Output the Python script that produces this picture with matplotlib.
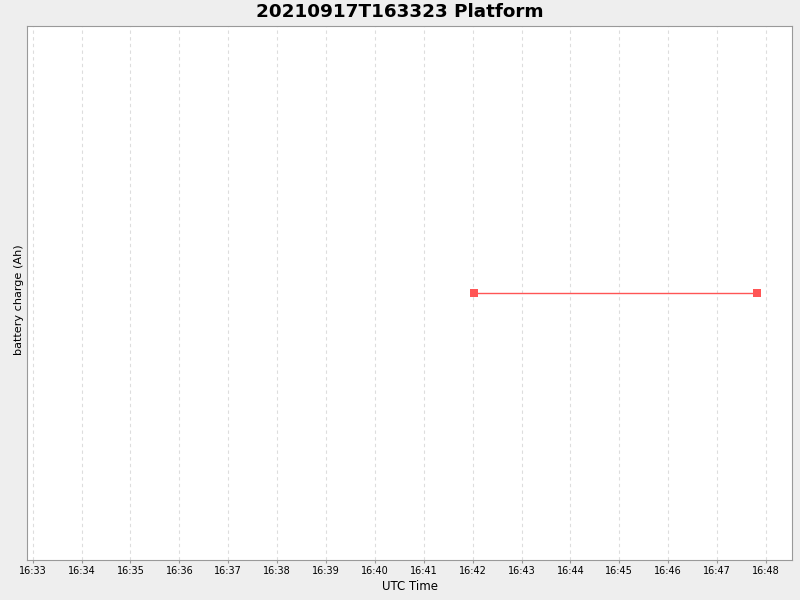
import datetime as dt
import matplotlib
matplotlib.use('Agg')
import matplotlib.pyplot as plt
import matplotlib.dates as mdates

# Data
times = [dt.datetime(2021, 9, 17, 16, 42, 2), dt.datetime(2021, 9, 17, 16, 47, 49)]
charge = [0.0, 0.0]
x_start = dt.datetime(2021, 9, 17, 16, 32, 53)
x_end = dt.datetime(2021, 9, 17, 16, 48, 32)

fig = plt.figure(figsize=(8, 6), dpi=100, facecolor='#eeeeee')
ax = fig.add_axes([27 / 800, 40 / 600, 765 / 800, 534 / 600])
ax.set_facecolor('white')

ax.plot(times, charge, color='#ff5555', lw=1, marker='s', ms=6,
        markeredgewidth=0)

ax.set_xlim(x_start, x_end)
ax.set_ylim(-1, 1)
ax.xaxis.set_major_locator(mdates.MinuteLocator())
ax.xaxis.set_major_formatter(mdates.DateFormatter('%H:%M'))
ax.grid(axis='x', color='#dddddd', ls=(0, (3, 3)), lw=0.8)
ax.set_yticks([])
ax.tick_params(axis='x', labelsize=7, length=2, color='#999999', pad=2)

for spine in ax.spines.values():
    spine.set_color('#999999')

ax.set_xlabel('UTC Time', fontsize=8.5, labelpad=3)
ax.set_ylabel('battery charge (Ah)', fontsize=8.1)
ax.yaxis.set_label_coords(-0.004, 0.487)
fig.suptitle('20210917T163323 Platform', fontsize=13.2, fontweight='bold',
             y=0.995)

plt.savefig('out.png', facecolor=fig.get_facecolor())
